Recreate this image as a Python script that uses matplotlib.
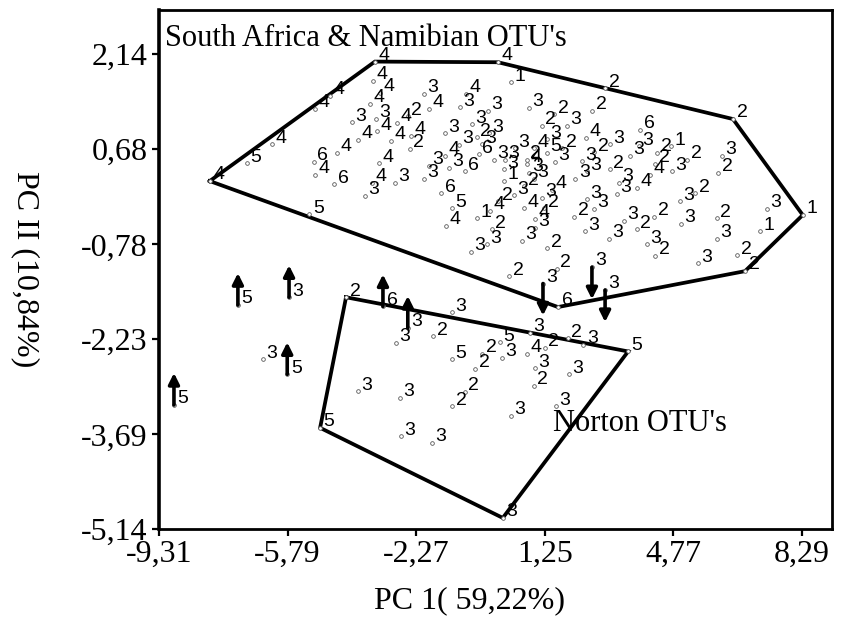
import matplotlib.pyplot as plt

plt.rcParams['font.family'] = ['Liberation Serif', 'DejaVu Serif']

# OTU scores on PC 1 / PC II, South Africa & Namibia (first seven points are the hull)
sa_x = [-7.92, -3.40, -0.03, 6.40, 8.31, 6.73, 1.61,
        -3.45, -3.26, -4.63, -5.04, -2.06, -1.92, -0.91, -1.08, -3.53, -4.03,
        -3.37, -3.34, -2.80, -2.50, -3.86, -2.97, -2.42, -2.45, -4.44, -6.22,
        -6.90, -5.07, -5.04, -4.52, -3.29, -3.48, -3.67, -2.85, -1.92, -2.06,
        -5.20, 0.32, -0.31, 0.81, 1.50, 2.90, 2.54, -1.49, -0.75, -0.61,
        -0.28, 1.17, 1.86, 3.86, 1.31, 2.38, -1.10, -1.49, -0.47, -0.56,
        -0.14, 0.43, 0.95, 1.31, 1.72, 1.53, 0.76, 2.60, 3.03, 3.58,
        3.83, 4.32, 4.71, 5.14, 6.10, -1.38, -0.94, 0.16, 0.13, 0.76,
        0.81, 0.95, 0.13, 2.27, 2.40, 2.08, 3.03, 4.27, 4.13, 4.73,
        5.99, 0.68, 0.40, 1.44, 3.28, 3.22, 3.77, 5.36, 4.95, -1.59,
        -1.29, -1.45, -0.03, -0.24, -0.61, 0.68, 1.17, 1.23, 0.98, 0.98,
        2.40, 2.60, 2.05, 3.42, 4.24, 4.98, 5.96, 7.33, 7.14, -0.20,
        2.35, 3.00, 3.77, 5.96, -0.34, -0.77, 0.62, 1.31, 4.05, 4.27,
        5.44, 6.51, 0.27, 1.58]
sa_y = [0.19, 2.02, 2.01, 1.14, -0.33, -1.19, -1.74,
        1.72, 1.54, 1.49, 1.29, 1.52, 1.29, 1.52, 1.32, 1.37, 1.09,
        1.14, 0.95, 1.08, 1.18, 0.82, 0.80, 0.88, 0.68, 0.62, 0.75,
        0.46, 0.48, 0.28, 0.14, 0.46, 0.16, -0.04, 0.16, 0.42, 0.22,
        -0.32, 1.70, 1.26, 1.31, 1.21, 1.61, 1.27, 0.92, 1.06, 0.86,
        0.92, 1.03, 1.03, 0.97, 0.83, 0.85, 0.74, 0.57, 0.75, 0.60,
        0.52, 0.69, 0.69, 0.62, 0.69, 0.48, 0.52, 0.63, 0.75, 0.57,
        0.72, 0.62, 0.72, 0.52, 0.57, 0.39, 0.34, 0.52, 0.37, 0.45,
        0.31, 0.22, 0.19, 0.49, 0.34, 0.22, 0.37, 0.45, 0.29, 0.34,
        0.32, 0.11, -0.03, 0.06, 0.16, -0.01, 0.08, 0.00, -0.12, 0.00,
        -0.23, -0.50, -0.12, -0.27, -0.38, -0.23, -0.07, -0.23, -0.39, -0.53,
        -0.09, -0.24, -0.36, -0.42, -0.36, -0.47, -0.38, -0.24, -0.58, -0.55,
        -0.58, -0.69, -0.55, -0.70, -0.78, -0.89, -0.73, -0.84, -0.78, -0.96,
        -1.07, -0.95, -1.27, -1.16]
sa_lab = [4, 4, 4, 2, 1, 2, 6,
          4, 4, 4, 4, 3, 4, 4, 3, 4, 3,
          3, 4, 4, 2, 4, 4, 4, 2, 4, 4,
          5, 6, 4, 6, 4, 4, 3, 3, 3, 3,
          5, 1, 3, 3, 2, 2, 2, 3, 3, 2,
          3, 2, 3, 6, 3, 4, 3, 4, 3, 6,
          3, 3, 4, 5, 2, 3, 2, 2, 3, 3,
          3, 2, 1, 2, 3, 3, 6, 3, 3, 4,
          3, 3, 1, 3, 3, 3, 2, 2, 4, 3,
          2, 2, 3, 4, 3, 3, 4, 2, 3, 6,
          5, 4, 2, 4, 1, 4, 3, 2, 4, 3,
          3, 3, 2, 3, 2, 3, 2, 3, 1, 2,
          3, 3, 2, 3, 3, 3, 3, 2, 3, 2,
          3, 2, 2, 2]
sa_hull = [0, 1, 2, 3, 4, 5, 6]

# Norton OTUs (first four points are the hull)
no_x = [-4.19, 3.53, 0.10, -4.90,
        -1.29, -2.83, -1.81, -1.29, -0.66, -0.94, -3.86, -2.72, -1.29, -2.69,
        -1.84, 0.02, -0.47, 0.08, 0.84, 0.76, 1.25, 0.98, 1.88, 2.30,
        1.91, 0.95, 1.55, 0.32]
no_y = [-1.59, -2.42, -4.97, -3.59,
        -1.82, -2.29, -2.19, -2.54, -2.69, -3.04, -3.03, -3.13, -3.26, -3.72,
        -3.82, -2.28, -2.46, -2.52, -2.14, -2.46, -2.37, -2.68, -2.22, -2.32,
        -2.77, -2.95, -3.26, -3.41]
no_lab = [2, 5, 3, 5,
          3, 3, 2, 5, 2, 2, 3, 3, 2, 3,
          3, 5, 2, 3, 3, 4, 2, 3, 2, 3,
          3, 2, 3, 3]
no_hull = [0, 1, 2, 3]

# OTUs drawn with a shift arrow (1 = up, -1 = down, 0 = none)
ar_x = [-7.15, -5.75, -3.18, -2.50, -5.80, -8.90, -6.47, 1.20, 2.54, 2.90]
ar_y = [-1.71, -1.59, -1.73, -2.06, -2.77, -3.24, -2.54, -1.38, -1.13, -1.48]
ar_lab = [5, 3, 6, 3, 5, 5, 3, 3, 3, 3]
ar_dir = [1, 1, 1, 1, 1, 1, 0, -1, -1, -1]

xticks = [-9.31, -5.79, -2.27, 1.25, 4.77, 8.29]
yticks = [2.14, 0.68, -0.78, -2.23, -3.69, -5.14]


def plot_points(ax, xs, ys, labs):
    ax.scatter(xs, ys, s=7, facecolors='white', edgecolors='0.35',
               linewidths=0.6, zorder=3)
    for x, y, t in zip(xs, ys, labs):
        ax.annotate(str(t), (x, y), xytext=(6.5, 4.5), textcoords='offset points',
                    ha='center', va='center', fontsize=14,
                    family='Liberation Sans', zorder=4)


def plot_hull(ax, xs, ys, order):
    hx = [xs[i] for i in order] + [xs[order[0]]]
    hy = [ys[i] for i in order] + [ys[order[0]]]
    ax.plot(hx, hy, color='black', lw=2.7, solid_joinstyle='miter', zorder=2)


fig = plt.figure(figsize=(8.52, 6.3), dpi=100)
ax = fig.add_axes([0.1866, 0.1603, 0.7899, 0.8238])

plot_hull(ax, sa_x, sa_y, sa_hull)
plot_hull(ax, no_x, no_y, no_hull)
plot_points(ax, sa_x, sa_y, sa_lab)
plot_points(ax, no_x, no_y, no_lab)
plot_points(ax, ar_x, ar_y, ar_lab)

for x, y, d in zip(ar_x, ar_y, ar_dir):
    if d == 0:
        continue
    ax.annotate('', xy=(x, y + d * 0.49), xytext=(x, y),
                arrowprops=dict(arrowstyle='-|>', lw=2.6, color='black',
                                mutation_scale=16, shrinkA=0, shrinkB=0),
                zorder=5)

ax.text(-9.15, 2.38, "South Africa & Namibian OTU's", fontsize=22,
        ha='left', va='center')
ax.text(1.47, -3.52, "Norton OTU's", fontsize=22, ha='left', va='center')

ax.set_xlim(-9.31, 9.11)
ax.set_ylim(-5.14, 2.81)
ax.set_xticks(xticks)
ax.set_xticklabels([f'{v:.2f}'.replace('.', ',') for v in xticks])
ax.set_yticks(yticks)
ax.set_yticklabels([f'{v:.2f}'.replace('.', ',') for v in yticks])
ax.tick_params(direction='out', length=5, width=1.6, labelsize=23, pad=3)
for sp in ax.spines.values():
    sp.set_linewidth(2.0)
ax.spines['left'].set_linewidth(2.6)

ax.set_xlabel('PC 1( 59,22%)', fontsize=23, va='center')
ax.xaxis.set_label_coords(0.462, -0.139)
ax.set_ylabel('PC II (10,84%)', fontsize=23, rotation=270, va='center')
ax.yaxis.set_label_coords(-0.199, 0.5)

fig.savefig('out.png', dpi=100)
